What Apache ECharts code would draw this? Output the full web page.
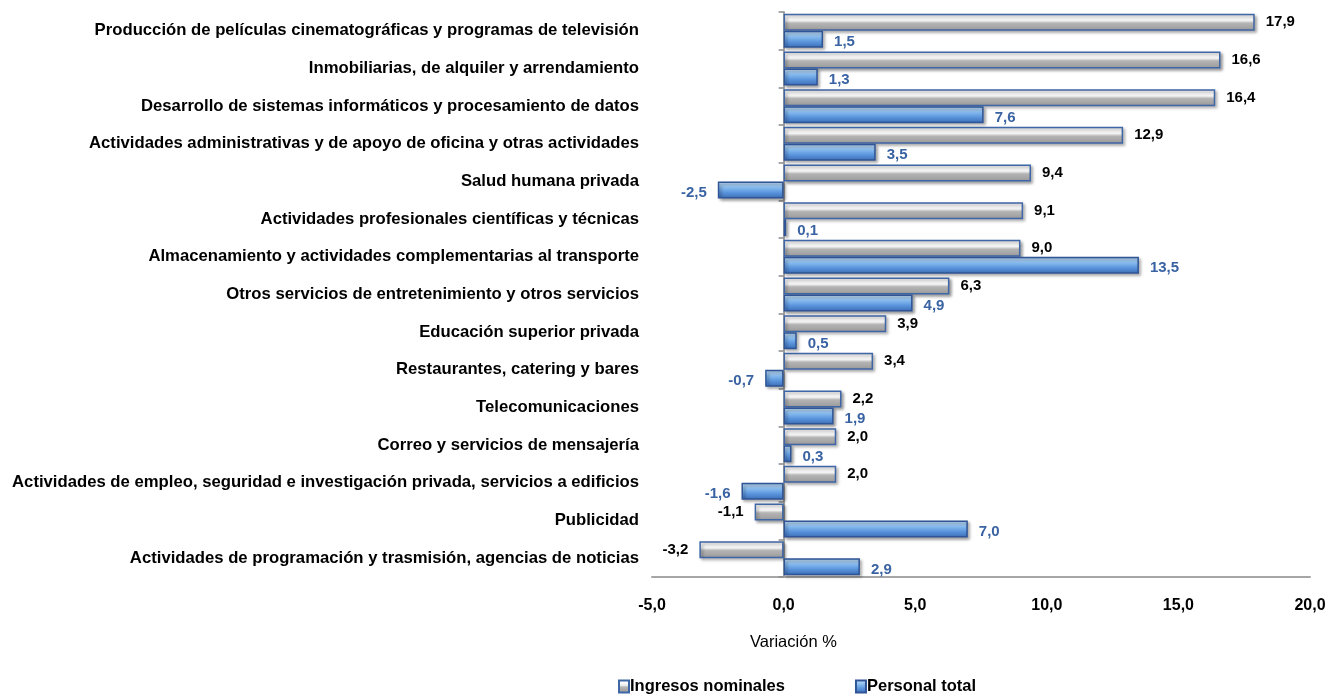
<!DOCTYPE html>
<html>
<head>
<meta charset="utf-8">
<script src="https://cdn.jsdelivr.net/npm/echarts@6/dist/echarts.min.js"></script>
<style>
  html, body { margin: 0; padding: 0; background: #fff; }
  #chart { width: 1338px; height: 694px; }
</style>
</head>
<body>
<div id="chart"></div>
<script>
var categories = [
  'Producción de películas cinematográficas y programas de televisión',
  'Inmobiliarias, de alquiler y arrendamiento',
  'Desarrollo de sistemas informáticos y procesamiento de datos',
  'Actividades administrativas y de apoyo de oficina y otras actividades',
  'Salud humana privada',
  'Actividades profesionales científicas y técnicas',
  'Almacenamiento y actividades complementarias al transporte',
  'Otros servicios de entretenimiento y otros servicios',
  'Educación superior privada',
  'Restaurantes, catering y bares',
  'Telecomunicaciones',
  'Correo y servicios de mensajería',
  'Actividades de empleo, seguridad e investigación privada, servicios a edificios',
  'Publicidad',
  'Actividades de programación y trasmisión, agencias de noticias'
];
var ingresos = [17.9, 16.6, 16.4, 12.9, 9.4, 9.1, 9.0, 6.3, 3.9, 3.4, 2.2, 2.0, 2.0, -1.1, -3.2];
var personal = [1.5, 1.3, 7.6, 3.5, -2.5, 0.1, 13.5, 4.9, 0.5, -0.7, 1.9, 0.3, -1.6, 7.0, 2.9];
var seriesNames = ['Ingresos nominales', 'Personal total'];

var FONT = "'Liberation Sans', Arial, sans-serif";

function fmt(v) {
  return v.toFixed(1).replace('.', ',');
}

// etiqueta a la derecha si es positivo, a la izquierda si es negativo
function buildData(values, color, dy) {
  return values.map(function (v) {
    return {
      value: v,
      label: {
        show: true,
        position: v < 0 ? 'left' : 'right',
        distance: 11,
        offset: [0, dy],
        color: color,
        fontFamily: FONT,
        fontWeight: 'bold',
        fontSize: 15,
        formatter: function (p) { return fmt(p.value); }
      }
    };
  });
}

var greyFill = new echarts.graphic.LinearGradient(0, 0, 0, 1, [
  { offset: 0, color: '#d6d6d6' },
  { offset: 0.15, color: '#ffffff' },
  { offset: 0.4, color: '#f2f2f2' },
  { offset: 0.55, color: '#b4b4b4' },
  { offset: 1, color: '#999999' }
]);
var blueFill = new echarts.graphic.LinearGradient(0, 0, 0, 1, [
  { offset: 0, color: '#6394d2' },
  { offset: 0.12, color: '#b6d8f7' },
  { offset: 0.4, color: '#7fb5ec' },
  { offset: 0.65, color: '#5a94dc' },
  { offset: 1, color: '#3b6db5' }
]);

var chart = echarts.init(document.getElementById('chart'));
var option = {
  animation: false,
  grid: { left: 652, right: 28, top: 12, bottom: 117, outerBoundsMode: 'none' },
  legend: {
    data: seriesNames,
    icon: 'rect',
    left: 613,
    top: 673,
    itemWidth: 10,
    itemHeight: 12,
    itemGap: 70,
    textStyle: { fontFamily: FONT, fontWeight: 'bold', fontSize: 16.5, color: '#000', padding: [0, 0, 0, -4] }
  },
  graphic: [{
    type: 'text',
    left: 750,
    top: 634,
    style: { text: 'Variación %', fontFamily: FONT, fontSize: 16.5, fill: '#000' }
  }],
  xAxis: {
    type: 'value',
    min: -5,
    max: 20,
    interval: 5,
    splitLine: { show: false },
    axisTick: { show: false },
    axisLine: { show: true, lineStyle: { color: '#a6a6a6', width: 2 } },
    axisLabel: {
      margin: 21,
      color: '#000',
      fontFamily: FONT,
      fontWeight: 'bold',
      fontSize: 16,
      formatter: fmt
    }
  },
  yAxis: [{
    type: 'category',
    data: categories,
    inverse: true,
    axisLine: { show: true, onZero: true, lineStyle: { color: '#a6a6a6', width: 2 } },
    axisTick: { show: true, length: 5, lineStyle: { color: '#8a8a8a', width: 1.5 } },
    axisLabel: { show: false }
  }, {
    type: 'category',
    data: categories,
    inverse: true,
    position: 'left',
    axisLine: { show: false },
    axisTick: { show: false },
    axisLabel: {
      margin: 13,
      color: '#000',
      fontFamily: FONT,
      fontWeight: 'bold',
      fontSize: 16.7
    }
  }],
  series: [{
    name: seriesNames[0],
    type: 'bar',
    yAxisIndex: 0,
    barWidth: 17,
    barGap: '0%',
    itemStyle: {
      color: greyFill,
      borderColor: '#3f66a6',
      borderWidth: 1.5,
      shadowBlur: 3,
      shadowOffsetX: 2,
      shadowOffsetY: 2,
      shadowColor: 'rgba(0,0,0,0.35)'
    },
    data: buildData(ingresos, '#000000', 0)
  }, {
    name: seriesNames[1],
    type: 'bar',
    yAxisIndex: 0,
    barWidth: 17,
    barGap: '0%',
    itemStyle: {
      color: blueFill,
      borderColor: '#2f5597',
      borderWidth: 1.5,
      shadowBlur: 3,
      shadowOffsetX: 2,
      shadowOffsetY: 2,
      shadowColor: 'rgba(0,0,0,0.35)'
    },
    data: buildData(personal, '#3a63a3', 3)
  }]
};
chart.setOption(option);
window.addEventListener('resize', function () {
  chart.resize();
});
</script>
</body>
</html>
